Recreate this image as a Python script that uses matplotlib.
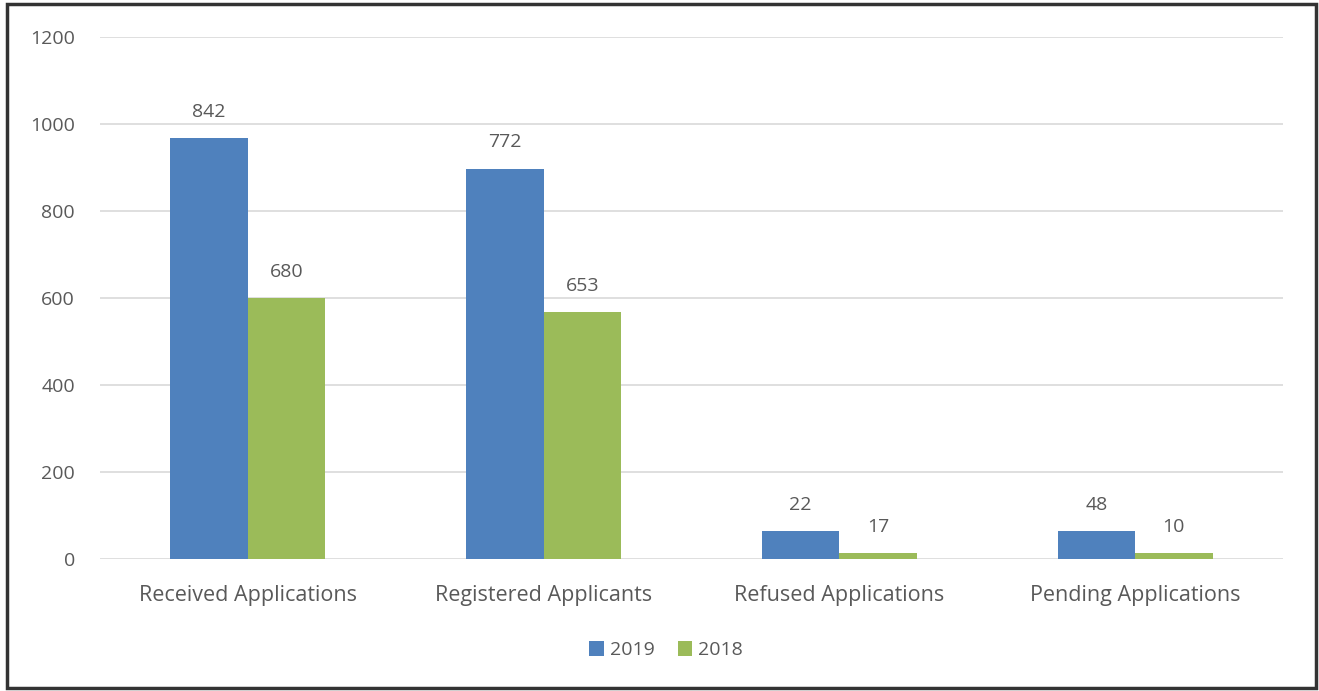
import matplotlib
matplotlib.use("Agg")
import matplotlib.pyplot as plt
import numpy as np
from matplotlib.patches import Rectangle

categories = ["Received Applications", "Registered Applicants", "Refused Applications", "Pending Applications"]
series_names = ["2019", "2018"]
bar_2019 = [968, 897, 64, 64]
bar_2018 = [600, 567, 14, 14]
labels_2019 = ["842", "772", "22", "48"]
labels_2018 = ["680", "653", "17", "10"]
yticks = [0, 200, 400, 600, 800, 1000, 1200]

blue = "#4F81BD"
green = "#9BBB59"
txt = "#595959"
fs = 14

plt.rcParams['font.family'] = ['Open Sans', 'DejaVu Sans']

fig = plt.figure(figsize=(13.19, 6.91), dpi=100)
ax = fig.add_axes([0.0758, 0.191, 0.8969, 0.7555])

x = np.arange(len(categories))
w = 0.262
b1 = ax.bar(x - w/2, bar_2019, w, color=blue, label=series_names[0], zorder=3)
b2 = ax.bar(x + w/2, bar_2018, w, color=green, label=series_names[1], zorder=3)

for rects, labs in ((b1, labels_2019), (b2, labels_2018)):
    for r, lab in zip(rects, labs):
        ax.annotate(lab, (r.get_x() + r.get_width()/2, r.get_height()),
                    xytext=(0, 19), textcoords="offset points",
                    ha="center", va="center", fontsize=fs, color=txt)

ax.set_xlim(-0.5, 3.5)
ax.set_ylim(0, 1200)
ax.set_yticks(yticks)
ax.set_xticks(x)
ax.set_xticklabels(categories)
ax.tick_params(axis="both", length=0, labelsize=fs, labelcolor=txt)
ax.tick_params(axis="x", pad=18.5, labelsize=15.5)
ax.tick_params(axis="y", pad=18)
ax.grid(axis="y", color="#D9D9D9", linewidth=1.2, zorder=0)
for s in ax.spines.values():
    s.set_visible(False)

leg = fig.legend(handles=[b1, b2], labels=series_names, loc="center",
                 bbox_to_anchor=(0.505, 0.059), ncol=2, frameon=False,
                 fontsize=fs, handlelength=0.75, handleheight=0.75,
                 handletextpad=0.3, columnspacing=1.2)
for t in leg.get_texts():
    t.set_color(txt)

fig.patches.append(Rectangle((0.005, 0.004), 0.993, 0.99, transform=fig.transFigure,
                             fill=False, edgecolor="#333333", linewidth=2.5))

fig.savefig("out.png", dpi=100)
